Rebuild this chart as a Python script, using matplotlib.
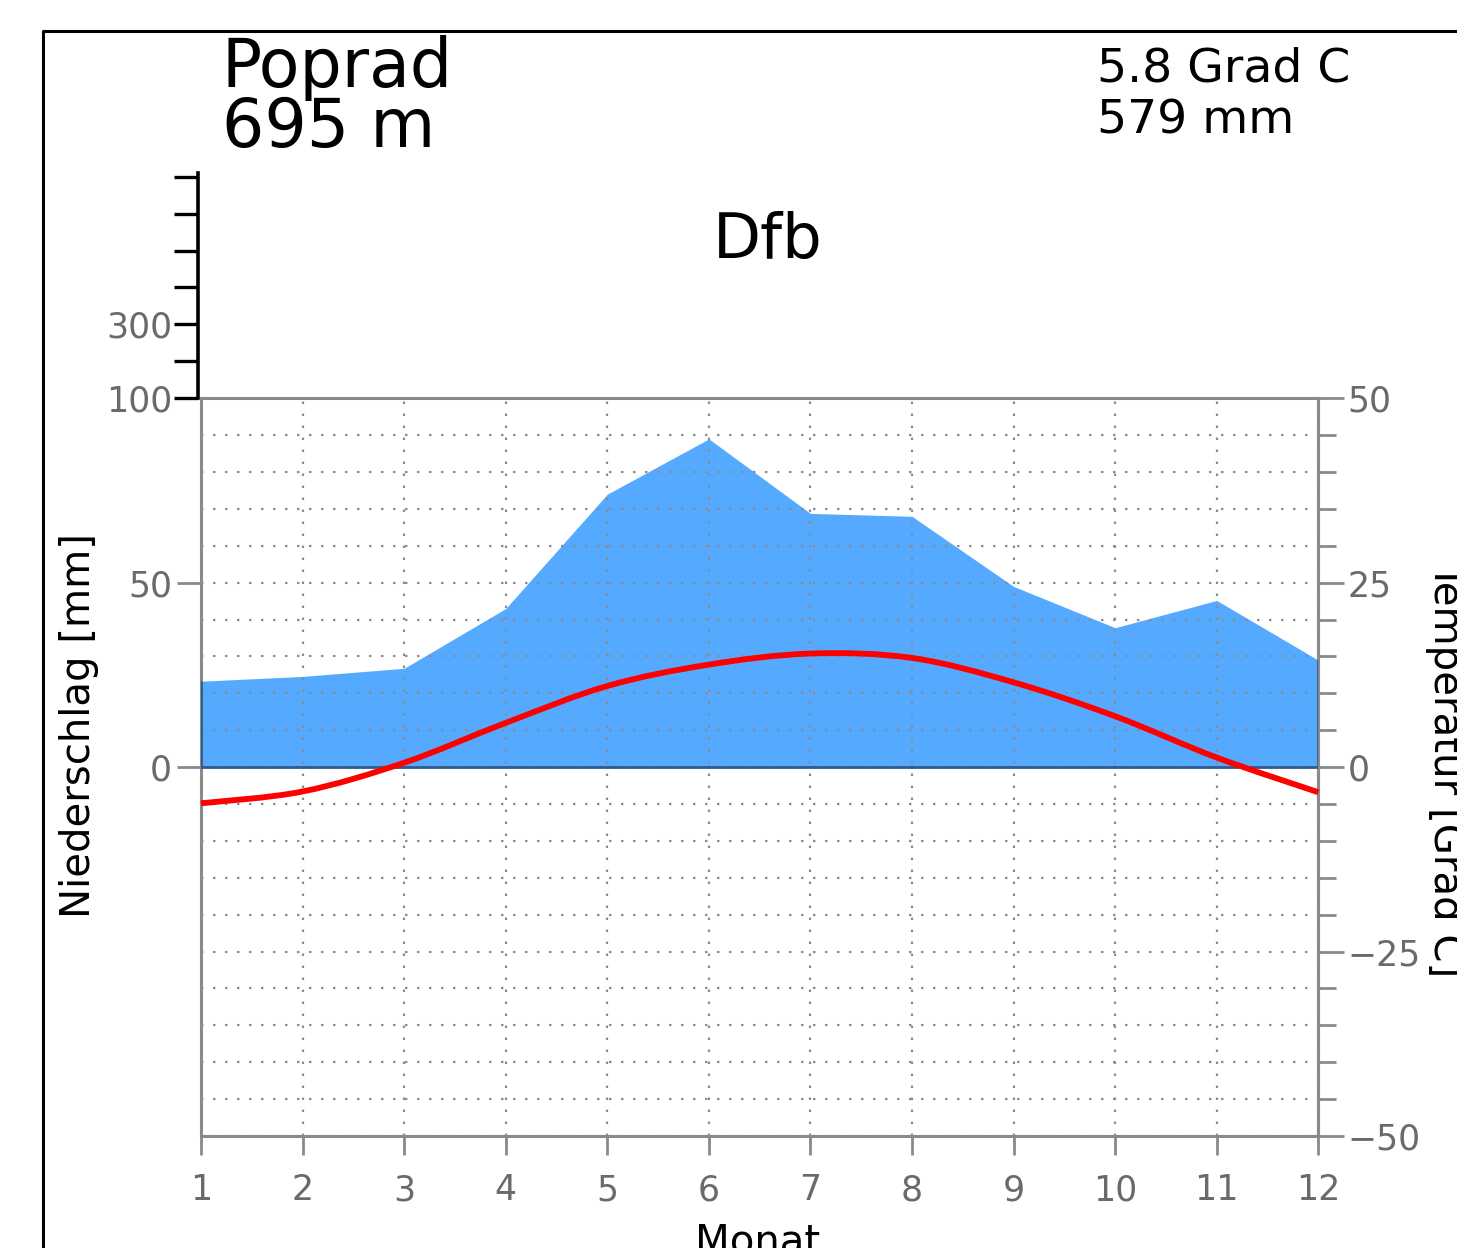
import matplotlib.pyplot as plt
from matplotlib.path import Path
from matplotlib.patches import PathPatch
from matplotlib.lines import Line2D
from matplotlib.ticker import MultipleLocator

# Klimadiagramm Poprad
monate = list(range(1, 13))
niederschlag = [23.3, 24.6, 26.8, 43.0, 74.0, 89.0, 68.8, 68.0, 49.0, 37.8, 45.2, 29.0]   # mm
temperatur = [-4.9, -3.3, 0.6, 6.0, 11.0, 13.9, 15.4, 14.8, 11.5, 6.9, 1.3, -3.4]        # Grad C

station = 'Poprad'
hoehe = '695 m'
klima = 'Dfb'
jahresmittel = 5.8
jahressumme = 579

mm_ticks = [0, 50]
mm_oben_ticks = [100, 200, 300, 400, 500, 600, 700]
mm_oben_labels = ['100', '', '300', '', '', '', '']

W, H = 1457, 1248
grau = '#8a8a8a'
textgrau = '#6a6a6a'
blau = '#55aaff'
dunkelblau = '#2d5b8e'

fig = plt.figure(figsize=(W / 100, H / 100), dpi=100)

# Hauptdiagramm: 0..100 mm  <->  0..50 Grad C
ax = fig.add_axes([201 / W, 1 - 1136 / H, (1318.3 - 201) / W, (1136 - 398.3) / H])
ax.set_xlim(1, 12)
ax.set_ylim(-100, 100)

ax.fill_between(monate, 0, niederschlag, color=blau, lw=0, zorder=1)
ax.vlines([monate[0], monate[-1]], 0, [niederschlag[0], niederschlag[-1]],
          color=dunkelblau, lw=2, zorder=2.6)
ax.axhline(0, color=dunkelblau, lw=2, zorder=2.6)

# Temperaturkurve (geglaettet, Bezier durch die Monatswerte)
pts = list(zip(monate, [2 * t for t in temperatur]))
verts = [pts[0]]
codes = [Path.MOVETO]
for i in range(len(pts) - 1):
    p0 = pts[max(i - 1, 0)]
    p1 = pts[i]
    p2 = pts[i + 1]
    p3 = pts[min(i + 2, len(pts) - 1)]
    c1 = (p1[0] + (p2[0] - p0[0]) / 6, p1[1] + (p2[1] - p0[1]) / 6)
    c2 = (p2[0] - (p3[0] - p1[0]) / 6, p2[1] - (p3[1] - p1[1]) / 6)
    verts += [c1, c2, p2]
    codes += [Path.CURVE4] * 3
ax.add_patch(PathPatch(Path(verts, codes), fill=False, edgecolor='#ff0000',
                       lw=4.2, zorder=3, clip_on=False))

# Gitter
ax.set_xticks(monate)
ax.set_yticks(mm_ticks)
ax.yaxis.set_minor_locator(MultipleLocator(10))
ax.set_axisbelow(False)
ax.grid(which='both', color='#8c8c8c', lw=1.6, linestyle=(0, (1.1, 4.3)))
ax.tick_params(axis='y', which='minor', left=False)
ax.tick_params(axis='y', which='major', length=17, width=2, color=grau,
               labelsize=25, labelcolor=textgrau, pad=4)
ax.tick_params(axis='x', length=14, width=2, color=grau,
               labelsize=25, labelcolor=textgrau, pad=13)
for s in ax.spines.values():
    s.set_color(grau)
    s.set_linewidth(2.2)

# Temperaturachse rechts
sec = ax.secondary_yaxis('right', functions=(lambda p: p / 2, lambda t: t * 2))
sec.yaxis.set_major_locator(MultipleLocator(25))
sec.yaxis.set_minor_locator(MultipleLocator(5))
sec.tick_params(which='major', length=19, width=2, color=grau,
                labelsize=25, labelcolor=textgrau, pad=2)
sec.tick_params(which='minor', length=13, width=2, color=grau)
sec.spines['right'].set_color(grau)
sec.spines['right'].set_linewidth(2.2)

# gestauchte Skala oberhalb 100 mm
ax_top = fig.add_axes([197.7 / W, 1 - 398.3 / H, 0.01, (398.3 - 173) / H])
ax_top.set_ylim(100, 710)
ax_top.patch.set_visible(False)
for k in ['top', 'right', 'bottom']:
    ax_top.spines[k].set_visible(False)
ax_top.spines['left'].set_color('black')
ax_top.spines['left'].set_linewidth(2.6)
ax_top.set_xticks([])
ax_top.set_yticks(mm_oben_ticks)
ax_top.set_yticklabels(mm_oben_labels)
ax_top.tick_params(axis='y', length=17, width=2.4, color='black',
                   labelsize=25, labelcolor=textgrau, pad=1)

# Texte
fig.text(222 / W, 1 - 87 / H, station, fontsize=48, va='baseline')
fig.text(222 / W, 1 - 147 / H, hoehe, fontsize=48, va='baseline')
fig.text(1097 / W, 1 - 82 / H, f'{jahresmittel} Grad C', fontsize=34, va='baseline')
fig.text(1097 / W, 1 - 133 / H, f'{jahressumme} mm', fontsize=34, va='baseline')
fig.text(713 / W, 1 - 258 / H, klima, fontsize=45, va='baseline')

fig.text(79 / W, 1 - 726 / H, 'Niederschlag [mm]', fontsize=29, rotation=90,
         ha='center', va='center')
fig.text(1425 / W, 1 - 770 / H, 'Temperatur [Grad C]', fontsize=29, rotation=270,
         ha='left', va='center')
fig.text(758 / W, 1 - 1222 / H, 'Monat', fontsize=29, ha='center', va='top')

# Rahmen
fig.add_artist(Line2D([43 / W, 43 / W, 1], [0, 1 - 31 / H, 1 - 31 / H],
                      color='black', lw=2.2))

fig.savefig('out.png', dpi=100)
